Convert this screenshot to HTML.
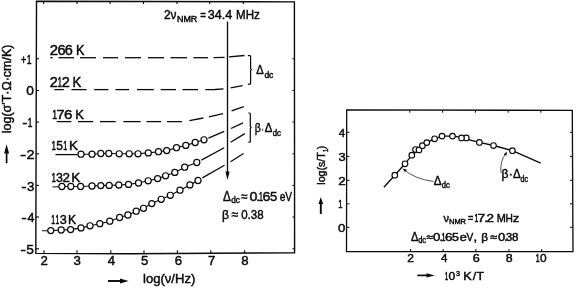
<!DOCTYPE html>
<html lang="en"><head><meta charset="utf-8"><title>Conductivity and NMR relaxation figure</title>
<style>html,body{margin:0;padding:0;background:#fff;overflow:hidden}svg{display:block}text{font-family:"Liberation Sans",sans-serif;fill:#0a0a0a;stroke:#0a0a0a;stroke-width:0.45px}</style>
</head><body>
<svg width="576" height="289" viewBox="0 0 576 289">
<rect width="576" height="289" fill="#fff"/>
<polygon points="36.5,1.3 294.4,1.9 294.6,252.7 130,253.8 35.8,253.4" fill="none" stroke="#0a0a0a" stroke-width="1.4"/>
<line x1="43.6" y1="1.5" x2="43.6" y2="4" stroke="#0a0a0a" stroke-width="1.1"/>
<line x1="77" y1="1.5" x2="77" y2="4" stroke="#0a0a0a" stroke-width="1.1"/>
<line x1="110.1" y1="1.5" x2="110.1" y2="4" stroke="#0a0a0a" stroke-width="1.1"/>
<line x1="143.5" y1="1.5" x2="143.5" y2="4" stroke="#0a0a0a" stroke-width="1.1"/>
<line x1="177" y1="1.5" x2="177" y2="4" stroke="#0a0a0a" stroke-width="1.1"/>
<line x1="209.7" y1="1.5" x2="209.7" y2="4" stroke="#0a0a0a" stroke-width="1.1"/>
<line x1="243.3" y1="1.5" x2="243.3" y2="4" stroke="#0a0a0a" stroke-width="1.1"/>
<line x1="44" y1="253.3" x2="44" y2="250.2" stroke="#0a0a0a" stroke-width="1.1"/>
<line x1="77" y1="253.3" x2="77" y2="250.2" stroke="#0a0a0a" stroke-width="1.1"/>
<line x1="110.8" y1="253.3" x2="110.8" y2="250.2" stroke="#0a0a0a" stroke-width="1.1"/>
<line x1="144" y1="253.3" x2="144" y2="250.2" stroke="#0a0a0a" stroke-width="1.1"/>
<line x1="177.4" y1="253.3" x2="177.4" y2="250.2" stroke="#0a0a0a" stroke-width="1.1"/>
<line x1="210.8" y1="253.3" x2="210.8" y2="250.2" stroke="#0a0a0a" stroke-width="1.1"/>
<line x1="244.6" y1="253.3" x2="244.6" y2="250.2" stroke="#0a0a0a" stroke-width="1.1"/>
<line x1="36" y1="58.7" x2="39" y2="58.7" stroke="#0a0a0a" stroke-width="1.1"/>
<line x1="294.5" y1="58.7" x2="292.5" y2="58.7" stroke="#0a0a0a" stroke-width="1.1"/>
<line x1="36" y1="90.5" x2="39" y2="90.5" stroke="#0a0a0a" stroke-width="1.1"/>
<line x1="294.5" y1="90.5" x2="292.5" y2="90.5" stroke="#0a0a0a" stroke-width="1.1"/>
<line x1="36" y1="122" x2="39" y2="122" stroke="#0a0a0a" stroke-width="1.1"/>
<line x1="294.5" y1="122" x2="292.5" y2="122" stroke="#0a0a0a" stroke-width="1.1"/>
<line x1="36" y1="153.8" x2="39" y2="153.8" stroke="#0a0a0a" stroke-width="1.1"/>
<line x1="294.5" y1="153.8" x2="292.5" y2="153.8" stroke="#0a0a0a" stroke-width="1.1"/>
<line x1="36" y1="185.4" x2="39" y2="185.4" stroke="#0a0a0a" stroke-width="1.1"/>
<line x1="294.5" y1="185.4" x2="292.5" y2="185.4" stroke="#0a0a0a" stroke-width="1.1"/>
<line x1="36" y1="217" x2="39" y2="217" stroke="#0a0a0a" stroke-width="1.1"/>
<line x1="294.5" y1="217" x2="292.5" y2="217" stroke="#0a0a0a" stroke-width="1.1"/>
<line x1="36" y1="248.8" x2="39" y2="248.8" stroke="#0a0a0a" stroke-width="1.1"/>
<line x1="294.5" y1="248.8" x2="292.5" y2="248.8" stroke="#0a0a0a" stroke-width="1.1"/>
<text y="64.3" font-size="13.2" ><tspan x="20.96" textLength="5.29" lengthAdjust="spacingAndGlyphs" stroke-width="0.55">+</tspan><tspan x="26.75" textLength="4.77" lengthAdjust="spacingAndGlyphs" stroke-width="0.58">1</tspan></text>
<text y="95.4" font-size="13.4" ><tspan x="26.36" textLength="7.68" lengthAdjust="spacingAndGlyphs">0</tspan></text>
<text y="127" font-size="13.6" ><tspan x="22.29" textLength="5.32" lengthAdjust="spacingAndGlyphs">-</tspan><tspan x="27.86" textLength="4.64" lengthAdjust="spacingAndGlyphs" stroke-width="0.61">1</tspan></text>
<text y="158.7" font-size="13.2" ><tspan x="20.06" textLength="6.27" lengthAdjust="spacingAndGlyphs">-</tspan><tspan x="26.57" textLength="8.06" lengthAdjust="spacingAndGlyphs">2</tspan></text>
<text y="190.6" font-size="13.2" ><tspan x="21.39" textLength="5.32" lengthAdjust="spacingAndGlyphs">-</tspan><tspan x="27.09" textLength="7.39" lengthAdjust="spacingAndGlyphs">3</tspan></text>
<text y="221.7" font-size="13" ><tspan x="21.35" textLength="5.59" lengthAdjust="spacingAndGlyphs">-</tspan><tspan x="27.61" textLength="6.95" lengthAdjust="spacingAndGlyphs">4</tspan></text>
<text y="254" font-size="13.2" ><tspan x="20.24" textLength="5.73" lengthAdjust="spacingAndGlyphs">-</tspan><tspan x="26.25" textLength="7.62" lengthAdjust="spacingAndGlyphs">5</tspan></text>
<text x="44.1" y="265.4" font-size="13.2" text-anchor="middle" >2</text>
<text x="77.1" y="265.4" font-size="13.2" text-anchor="middle" >3</text>
<text x="111.4" y="265.4" font-size="13.2" text-anchor="middle" >4</text>
<text x="144.6" y="265.4" font-size="13.2" text-anchor="middle" >5</text>
<text x="178.4" y="265.4" font-size="13.2" text-anchor="middle" >6</text>
<text x="211.6" y="265.4" font-size="13.2" text-anchor="middle" >7</text>
<text x="245" y="265.4" font-size="13.2" text-anchor="middle" >8</text>
<text transform="translate(11.3,88.9) rotate(-90)" font-size="12.3" text-anchor="middle" textLength="88.6" lengthAdjust="spacingAndGlyphs">log(σ'T·Ω·cm/K)</text>
<path d="M6.6,163.2V152" stroke="#0a0a0a" stroke-width="1.7" fill="none"/><path d="M6.6,144.2l-2.5,9.3h5z" fill="#0a0a0a"/>
<path d="M108,281H121" stroke="#0a0a0a" stroke-width="1.9" fill="none"/><path d="M128.5,281l-8.5,-2.5v5z" fill="#0a0a0a"/>
<text x="143" y="283.4" font-size="13.2" text-anchor="start" textLength="52.3" lengthAdjust="spacingAndGlyphs" >log(ν/Hz)</text>
<text x="164" y="19.2" font-size="13" text-anchor="start" textLength="12.5" lengthAdjust="spacingAndGlyphs" >2ν</text>
<text x="177" y="21.6" font-size="8.6" text-anchor="start" textLength="20.3" lengthAdjust="spacingAndGlyphs" >NMR</text>
<text x="200.2" y="19.2" font-size="13" text-anchor="start" textLength="5.6" lengthAdjust="spacingAndGlyphs" >=</text>
<text x="207.8" y="19.2" font-size="13" text-anchor="start" textLength="24.5" lengthAdjust="spacingAndGlyphs" >34.4</text>
<text x="236" y="19.2" font-size="13" text-anchor="start" textLength="23.8" lengthAdjust="spacingAndGlyphs" >MHz</text>
<line x1="227.5" y1="21.5" x2="227.5" y2="173" stroke="#0a0a0a" stroke-width="1.3"/>
<path d="M227.5,180l-2.1,-8.5h4.2z" fill="#0a0a0a"/>
<polyline points="50.3,57.7 52.6,57.7" fill="none" stroke="#0a0a0a" stroke-width="1.3" />
<polyline points="58.5,57.7 74,57.7" fill="none" stroke="#0a0a0a" stroke-width="1.3" />
<polyline points="80,57.7 96,57.7" fill="none" stroke="#0a0a0a" stroke-width="1.3" />
<polyline points="103,57.7 118,57.7" fill="none" stroke="#0a0a0a" stroke-width="1.3" />
<polyline points="125,57.7 141,57.7" fill="none" stroke="#0a0a0a" stroke-width="1.3" />
<polyline points="148,57.7 164,57.7" fill="none" stroke="#0a0a0a" stroke-width="1.3" />
<polyline points="170.5,57.7 187,57.7" fill="none" stroke="#0a0a0a" stroke-width="1.3" />
<polyline points="193.5,57.7 208,57.7" fill="none" stroke="#0a0a0a" stroke-width="1.3" />
<polyline points="213.5,57.7 224.5,57.400000000000006" fill="none" stroke="#0a0a0a" stroke-width="1.3" />
<polyline points="229,56.8 244.5,55.5" fill="none" stroke="#0a0a0a" stroke-width="1.3" />
<polyline points="54.3,89.6 63.8,89.6" fill="none" stroke="#0a0a0a" stroke-width="1.3" />
<polyline points="71.4,89.6 86.6,89.6" fill="none" stroke="#0a0a0a" stroke-width="1.3" />
<polyline points="94.2,89.6 108.4,89.6" fill="none" stroke="#0a0a0a" stroke-width="1.3" />
<polyline points="115.5,89.6 129,89.6" fill="none" stroke="#0a0a0a" stroke-width="1.3" />
<polyline points="137,89.6 153.8,89.6" fill="none" stroke="#0a0a0a" stroke-width="1.3" />
<polyline points="160.6,89.6 176,89.6" fill="none" stroke="#0a0a0a" stroke-width="1.3" />
<polyline points="182.4,89.6 198,89.6" fill="none" stroke="#0a0a0a" stroke-width="1.3" />
<polyline points="205.3,89.6 215,89.5 223.5,88.9" fill="none" stroke="#0a0a0a" stroke-width="1.3" />
<polyline points="230.6,87.8 242.7,85.6" fill="none" stroke="#0a0a0a" stroke-width="1.3" />
<polyline points="56.7,121.6 71.4,121.6" fill="none" stroke="#0a0a0a" stroke-width="1.3" />
<polyline points="78,121.6 93.2,121.6" fill="none" stroke="#0a0a0a" stroke-width="1.3" />
<polyline points="99.9,121.6 115.7,121.6" fill="none" stroke="#0a0a0a" stroke-width="1.3" />
<polyline points="123.4,121.6 140.6,121.6" fill="none" stroke="#0a0a0a" stroke-width="1.3" />
<polyline points="146.5,121.6 161.2,121.6" fill="none" stroke="#0a0a0a" stroke-width="1.3" />
<polyline points="167,121.6 181.9,121.7" fill="none" stroke="#0a0a0a" stroke-width="1.3" />
<polyline points="189.4,120.7 203.4,118" fill="none" stroke="#0a0a0a" stroke-width="1.3" />
<polyline points="208.9,116.9 223,113.7" fill="none" stroke="#0a0a0a" stroke-width="1.3" />
<polyline points="231.6,110.9 243.8,106.6" fill="none" stroke="#0a0a0a" stroke-width="1.3" />
<line x1="55.5" y1="154.6" x2="77.5" y2="154.6" stroke="#0a0a0a" stroke-width="1.3"/>
<polyline points="81,154.2 92,154.2 100.8,153.5 108.8,153.5 119.2,153.8 129.2,153.8 138,153.8 148.3,152.9 158.5,151.7 166.7,150.6 176.5,147.7 185.8,145.4 195.2,142.5 204,139.8" fill="none" stroke="#0a0a0a" stroke-width="1.1" />
<polyline points="208.4,138.1 224.2,131.3" fill="none" stroke="#0a0a0a" stroke-width="1.3" />
<polyline points="231,128.5 243,122.8" fill="none" stroke="#0a0a0a" stroke-width="1.3" />
<circle cx="81" cy="154.2" r="3.05" fill="#fff" stroke="#0a0a0a" stroke-width="1.2"/>
<circle cx="92" cy="154.2" r="3.05" fill="#fff" stroke="#0a0a0a" stroke-width="1.2"/>
<circle cx="100.8" cy="153.5" r="3.05" fill="#fff" stroke="#0a0a0a" stroke-width="1.2"/>
<circle cx="108.8" cy="153.5" r="3.05" fill="#fff" stroke="#0a0a0a" stroke-width="1.2"/>
<circle cx="119.2" cy="153.8" r="3.05" fill="#fff" stroke="#0a0a0a" stroke-width="1.2"/>
<circle cx="129.2" cy="153.8" r="3.05" fill="#fff" stroke="#0a0a0a" stroke-width="1.2"/>
<circle cx="138" cy="153.8" r="3.05" fill="#fff" stroke="#0a0a0a" stroke-width="1.2"/>
<circle cx="148.3" cy="152.9" r="3.05" fill="#fff" stroke="#0a0a0a" stroke-width="1.2"/>
<circle cx="158.5" cy="151.7" r="3.05" fill="#fff" stroke="#0a0a0a" stroke-width="1.2"/>
<circle cx="166.7" cy="150.6" r="3.05" fill="#fff" stroke="#0a0a0a" stroke-width="1.2"/>
<circle cx="176.5" cy="147.7" r="3.05" fill="#fff" stroke="#0a0a0a" stroke-width="1.2"/>
<circle cx="185.8" cy="145.4" r="3.05" fill="#fff" stroke="#0a0a0a" stroke-width="1.2"/>
<circle cx="195.2" cy="142.5" r="3.05" fill="#fff" stroke="#0a0a0a" stroke-width="1.2"/>
<circle cx="204" cy="139.8" r="3.05" fill="#fff" stroke="#0a0a0a" stroke-width="1.2"/>
<text y="149.6" font-size="13" ><tspan x="51.40" textLength="4.39" lengthAdjust="spacingAndGlyphs" stroke-width="0.61">1</tspan><tspan x="56.22" textLength="6.69" lengthAdjust="spacingAndGlyphs">5</tspan><tspan x="63.19" textLength="4.06" lengthAdjust="spacingAndGlyphs" stroke-width="0.65">1</tspan><tspan x="67.5"> </tspan><tspan x="69.08" textLength="9.07" lengthAdjust="spacingAndGlyphs">K</tspan></text>
<polyline points="52.5,187 61.9,186.5 70.8,186.5 80.6,186.5 92,186 100.8,185.6 109.2,185.4 118.8,185 128.5,184.4 138.5,183 148.2,180.8 157.6,178.6 165.6,175.8 174.8,172.4 184.7,167.2 196.8,162.5" fill="none" stroke="#0a0a0a" stroke-width="1.1" />
<polyline points="201.3,160.1 224.2,147.7" fill="none" stroke="#0a0a0a" stroke-width="1.3" />
<polyline points="230.6,142.3 244.8,133.6" fill="none" stroke="#0a0a0a" stroke-width="1.3" />
<circle cx="61.9" cy="186.5" r="3.05" fill="#fff" stroke="#0a0a0a" stroke-width="1.2"/>
<circle cx="70.8" cy="186.5" r="3.05" fill="#fff" stroke="#0a0a0a" stroke-width="1.2"/>
<circle cx="80.6" cy="186.5" r="3.05" fill="#fff" stroke="#0a0a0a" stroke-width="1.2"/>
<circle cx="92" cy="186" r="3.05" fill="#fff" stroke="#0a0a0a" stroke-width="1.2"/>
<circle cx="100.8" cy="185.6" r="3.05" fill="#fff" stroke="#0a0a0a" stroke-width="1.2"/>
<circle cx="109.2" cy="185.4" r="3.05" fill="#fff" stroke="#0a0a0a" stroke-width="1.2"/>
<circle cx="118.8" cy="185" r="3.05" fill="#fff" stroke="#0a0a0a" stroke-width="1.2"/>
<circle cx="128.5" cy="184.4" r="3.05" fill="#fff" stroke="#0a0a0a" stroke-width="1.2"/>
<circle cx="138.5" cy="183" r="3.05" fill="#fff" stroke="#0a0a0a" stroke-width="1.2"/>
<circle cx="148.2" cy="180.8" r="3.05" fill="#fff" stroke="#0a0a0a" stroke-width="1.2"/>
<circle cx="157.6" cy="178.6" r="3.05" fill="#fff" stroke="#0a0a0a" stroke-width="1.2"/>
<circle cx="165.6" cy="175.8" r="3.05" fill="#fff" stroke="#0a0a0a" stroke-width="1.2"/>
<circle cx="174.8" cy="172.4" r="3.05" fill="#fff" stroke="#0a0a0a" stroke-width="1.2"/>
<circle cx="184.7" cy="167.2" r="3.05" fill="#fff" stroke="#0a0a0a" stroke-width="1.2"/>
<circle cx="196.8" cy="162.5" r="3.05" fill="#fff" stroke="#0a0a0a" stroke-width="1.2"/>
<text y="181.5" font-size="13" ><tspan x="51.40" textLength="4.39" lengthAdjust="spacingAndGlyphs" stroke-width="0.61">1</tspan><tspan x="56.03" textLength="6.92" lengthAdjust="spacingAndGlyphs">3</tspan><tspan x="62.43" textLength="7.45" lengthAdjust="spacingAndGlyphs">2</tspan><tspan x="69.5"> </tspan><tspan x="71.18" textLength="9.07" lengthAdjust="spacingAndGlyphs">K</tspan></text>
<polyline points="42,230.8 50.8,230.6 61.2,230 70.6,229.6 81,227.9 90,225.8 99.8,223.7 109.8,221.2 119.6,217.5 127.9,215 136.2,211.2 143.5,208.3 151.8,203.6 161.2,199.3 170.3,195.3 180,190.2 189.9,184.9 198,180.5" fill="none" stroke="#0a0a0a" stroke-width="1.1" />
<polyline points="202.4,177.9 224.5,165.3" fill="none" stroke="#0a0a0a" stroke-width="1.3" />
<polyline points="230.5,161.7 243.5,153.5" fill="none" stroke="#0a0a0a" stroke-width="1.3" />
<circle cx="50.8" cy="230.6" r="3.05" fill="#fff" stroke="#0a0a0a" stroke-width="1.2"/>
<circle cx="61.2" cy="230" r="3.05" fill="#fff" stroke="#0a0a0a" stroke-width="1.2"/>
<circle cx="70.6" cy="229.6" r="3.05" fill="#fff" stroke="#0a0a0a" stroke-width="1.2"/>
<circle cx="81" cy="227.9" r="3.05" fill="#fff" stroke="#0a0a0a" stroke-width="1.2"/>
<circle cx="90" cy="225.8" r="3.05" fill="#fff" stroke="#0a0a0a" stroke-width="1.2"/>
<circle cx="99.8" cy="223.7" r="3.05" fill="#fff" stroke="#0a0a0a" stroke-width="1.2"/>
<circle cx="109.8" cy="221.2" r="3.05" fill="#fff" stroke="#0a0a0a" stroke-width="1.2"/>
<circle cx="119.6" cy="217.5" r="3.05" fill="#fff" stroke="#0a0a0a" stroke-width="1.2"/>
<circle cx="127.9" cy="215" r="3.05" fill="#fff" stroke="#0a0a0a" stroke-width="1.2"/>
<circle cx="136.2" cy="211.2" r="3.05" fill="#fff" stroke="#0a0a0a" stroke-width="1.2"/>
<circle cx="143.5" cy="208.3" r="3.05" fill="#fff" stroke="#0a0a0a" stroke-width="1.2"/>
<circle cx="151.8" cy="203.6" r="3.05" fill="#fff" stroke="#0a0a0a" stroke-width="1.2"/>
<circle cx="161.2" cy="199.3" r="3.05" fill="#fff" stroke="#0a0a0a" stroke-width="1.2"/>
<circle cx="170.3" cy="195.3" r="3.05" fill="#fff" stroke="#0a0a0a" stroke-width="1.2"/>
<circle cx="180" cy="190.2" r="3.05" fill="#fff" stroke="#0a0a0a" stroke-width="1.2"/>
<circle cx="189.9" cy="184.9" r="3.05" fill="#fff" stroke="#0a0a0a" stroke-width="1.2"/>
<circle cx="198" cy="180.5" r="3.05" fill="#fff" stroke="#0a0a0a" stroke-width="1.2"/>
<text y="224.2" font-size="13" ><tspan x="51.27" textLength="3.87" lengthAdjust="spacingAndGlyphs" stroke-width="0.67">1</tspan><tspan x="55.49" textLength="3.74" lengthAdjust="spacingAndGlyphs" stroke-width="0.69">1</tspan><tspan x="59.72" textLength="7.04" lengthAdjust="spacingAndGlyphs">3</tspan><tspan x="66.5"> </tspan><tspan x="68.10" textLength="8.14" lengthAdjust="spacingAndGlyphs">K</tspan></text>
<text y="54.7" font-size="13.8" ><tspan x="49.65" textLength="8.30" lengthAdjust="spacingAndGlyphs">2</tspan><tspan x="57.45" textLength="8.20" lengthAdjust="spacingAndGlyphs">6</tspan><tspan x="64.86" textLength="8.08" lengthAdjust="spacingAndGlyphs">6</tspan><tspan x="73"> </tspan><tspan x="75.96" textLength="8.49" lengthAdjust="spacingAndGlyphs">K</tspan></text>
<text y="86.6" font-size="14" ><tspan x="49.87" textLength="8.06" lengthAdjust="spacingAndGlyphs">2</tspan><tspan x="57.63" textLength="4.13" lengthAdjust="spacingAndGlyphs" stroke-width="0.68">1</tspan><tspan x="61.67" textLength="8.06" lengthAdjust="spacingAndGlyphs">2</tspan><tspan x="69.5"> </tspan><tspan x="72.41" textLength="8.84" lengthAdjust="spacingAndGlyphs">K</tspan></text>
<text y="119" font-size="13.6" ><tspan x="52.35" textLength="4.77" lengthAdjust="spacingAndGlyphs" stroke-width="0.60">1</tspan><tspan x="56.46" textLength="8.01" lengthAdjust="spacingAndGlyphs">7</tspan><tspan x="64.03" textLength="8.44" lengthAdjust="spacingAndGlyphs">6</tspan><tspan x="72"> </tspan><tspan x="75.18" textLength="8.72" lengthAdjust="spacingAndGlyphs">K</tspan></text>
<path d="M247.9,55.6h2q0.7,0 0.7,0.9V68.5l0.8,1l-0.8,1V83.2q0,0.9 -0.7,0.9h-2" fill="none" stroke="#0a0a0a" stroke-width="1.2"/>
<path d="M248.4,113h1.3q0.6,0 0.6,0.9V126.5l0.8,1l-0.8,1V141.2q0,0.9 -0.6,0.9h-1.3" fill="none" stroke="#0a0a0a" stroke-width="1.2"/>
<text x="256.2" y="74.4" font-size="12.2" text-anchor="start" textLength="7.4" lengthAdjust="spacingAndGlyphs" >Δ</text>
<text x="264.4" y="77.6" font-size="8.2" text-anchor="start" textLength="9" lengthAdjust="spacingAndGlyphs" >dc</text>
<text x="254.7" y="131.6" font-size="12.6" text-anchor="start" textLength="6" lengthAdjust="spacingAndGlyphs" >β</text>
<text x="261.6" y="132.6" font-size="12.6" text-anchor="start" textLength="2.4" lengthAdjust="spacingAndGlyphs" >·</text>
<text x="264.8" y="131.6" font-size="12.4" text-anchor="start" textLength="7.6" lengthAdjust="spacingAndGlyphs" >Δ</text>
<text x="272.7" y="135.6" font-size="8.2" text-anchor="start" textLength="8.2" lengthAdjust="spacingAndGlyphs" >dc</text>
<text x="223.1" y="200.6" font-size="14" text-anchor="start" textLength="7.8" lengthAdjust="spacingAndGlyphs" >Δ</text>
<text x="231.2" y="203.4" font-size="8.8" text-anchor="start" textLength="8.7" lengthAdjust="spacingAndGlyphs" >dc</text>
<text x="241.2" y="200.6" font-size="13.5" text-anchor="start" textLength="6.2" lengthAdjust="spacingAndGlyphs" >≈</text>
<text y="200.6" font-size="13.5" ><tspan x="249.44" textLength="7.91" lengthAdjust="spacingAndGlyphs">0</tspan><tspan x="256.35" textLength="3.79" lengthAdjust="spacingAndGlyphs">.</tspan><tspan x="259.07" textLength="3.87" lengthAdjust="spacingAndGlyphs" stroke-width="0.69">1</tspan><tspan x="262.57" textLength="7.95" lengthAdjust="spacingAndGlyphs">6</tspan><tspan x="269.88" textLength="7.27" lengthAdjust="spacingAndGlyphs">5</tspan></text>
<text x="279.7" y="200.6" font-size="13.5" text-anchor="start" textLength="12.4" lengthAdjust="spacingAndGlyphs" >eV</text>
<text x="222" y="218.6" font-size="13" text-anchor="start" textLength="7" lengthAdjust="spacingAndGlyphs" >β</text>
<text x="231.4" y="218.6" font-size="13.5" text-anchor="start" textLength="6.6" lengthAdjust="spacingAndGlyphs" >≈</text>
<text x="241.2" y="218.6" font-size="13.5" text-anchor="start" textLength="22.4" lengthAdjust="spacingAndGlyphs" >0.38</text>
<polygon points="346.7,109.9 572.3,110.4 573,251.5 346.5,251.7" fill="none" stroke="#0a0a0a" stroke-width="1.3"/>
<line x1="409.8" y1="110.2" x2="409.8" y2="112.7" stroke="#0a0a0a" stroke-width="1"/>
<line x1="442.7" y1="110.2" x2="442.7" y2="112.7" stroke="#0a0a0a" stroke-width="1"/>
<line x1="475.4" y1="110.2" x2="475.4" y2="112.7" stroke="#0a0a0a" stroke-width="1"/>
<line x1="508.2" y1="110.2" x2="508.2" y2="112.7" stroke="#0a0a0a" stroke-width="1"/>
<line x1="540.8" y1="110.2" x2="540.8" y2="112.7" stroke="#0a0a0a" stroke-width="1"/>
<line x1="410.6" y1="251.6" x2="410.6" y2="249" stroke="#0a0a0a" stroke-width="1"/>
<line x1="443.1" y1="251.6" x2="443.1" y2="249" stroke="#0a0a0a" stroke-width="1"/>
<line x1="475.9" y1="251.6" x2="475.9" y2="249" stroke="#0a0a0a" stroke-width="1"/>
<line x1="509" y1="251.6" x2="509" y2="249" stroke="#0a0a0a" stroke-width="1"/>
<line x1="541.7" y1="251.6" x2="541.7" y2="249" stroke="#0a0a0a" stroke-width="1"/>
<line x1="346.5" y1="132.3" x2="349.5" y2="132.3" stroke="#0a0a0a" stroke-width="1"/>
<line x1="572.6" y1="132.3" x2="570" y2="132.3" stroke="#0a0a0a" stroke-width="1"/>
<line x1="346.5" y1="156.4" x2="349.5" y2="156.4" stroke="#0a0a0a" stroke-width="1"/>
<line x1="572.6" y1="156.4" x2="570" y2="156.4" stroke="#0a0a0a" stroke-width="1"/>
<line x1="346.5" y1="180.3" x2="349.5" y2="180.3" stroke="#0a0a0a" stroke-width="1"/>
<line x1="572.6" y1="180.3" x2="570" y2="180.3" stroke="#0a0a0a" stroke-width="1"/>
<line x1="346.5" y1="203.8" x2="349.5" y2="203.8" stroke="#0a0a0a" stroke-width="1"/>
<line x1="572.6" y1="203.8" x2="570" y2="203.8" stroke="#0a0a0a" stroke-width="1"/>
<line x1="346.5" y1="227.3" x2="349.5" y2="227.3" stroke="#0a0a0a" stroke-width="1"/>
<line x1="572.6" y1="227.3" x2="570" y2="227.3" stroke="#0a0a0a" stroke-width="1"/>
<text y="136.7" font-size="11.8" ><tspan x="338.74" textLength="6.40" lengthAdjust="spacingAndGlyphs">4</tspan></text>
<text y="160.7" font-size="11.8" ><tspan x="338.41" textLength="7.16" lengthAdjust="spacingAndGlyphs">3</tspan></text>
<text y="184.7" font-size="11.8" ><tspan x="338.23" textLength="7.45" lengthAdjust="spacingAndGlyphs">2</tspan></text>
<text y="208.3" font-size="11.8" ><tspan x="338.32" textLength="4.26" lengthAdjust="spacingAndGlyphs" stroke-width="0.58">1</tspan></text>
<text y="231.9" font-size="11.8" ><tspan x="337.99" textLength="7.33" lengthAdjust="spacingAndGlyphs">0</tspan></text>
<text y="262.1" font-size="11.2" ><tspan x="407.29" textLength="6.71" lengthAdjust="spacingAndGlyphs">2</tspan></text>
<text y="262.1" font-size="11.2" ><tspan x="440.94" textLength="6.40" lengthAdjust="spacingAndGlyphs">4</tspan></text>
<text y="262.1" font-size="11.2" ><tspan x="472.86" textLength="6.99" lengthAdjust="spacingAndGlyphs">6</tspan></text>
<text y="262.1" font-size="11.2" ><tspan x="505.76" textLength="6.87" lengthAdjust="spacingAndGlyphs">8</tspan></text>
<text y="261.7" font-size="11.3" ><tspan x="535.77" textLength="3.87" lengthAdjust="spacingAndGlyphs" stroke-width="0.61">1</tspan><tspan x="540.03" textLength="6.63" lengthAdjust="spacingAndGlyphs">0</tspan></text>
<g transform="translate(325,184.7) rotate(-90)">
<text x="0" y="0" font-size="11.6" text-anchor="start" textLength="32.5" lengthAdjust="spacingAndGlyphs" >log(s/T</text>
<text x="32.6" y="2.6" font-size="7.6" text-anchor="start" textLength="3.2" lengthAdjust="spacingAndGlyphs" >1</text>
<text x="35.4" y="0" font-size="11.6" text-anchor="start" textLength="3.4" lengthAdjust="spacingAndGlyphs" >)</text>
</g>
<path d="M320.8,214V202" stroke="#0a0a0a" stroke-width="1.9" fill="none"/><path d="M320.8,197l-2.3,7h4.6z" fill="#0a0a0a"/>
<path d="M417.3,275.4H428" stroke="#0a0a0a" stroke-width="1.7" fill="none"/><path d="M434.8,275.4l-8.3,-2.1v4.2z" fill="#0a0a0a"/>
<text y="280" font-size="11.3" ><tspan x="444.98" textLength="3.10" lengthAdjust="spacingAndGlyphs" stroke-width="0.71">1</tspan><tspan x="448.53" textLength="6.75" lengthAdjust="spacingAndGlyphs">0</tspan></text>
<text y="276.4" font-size="8" ><tspan x="456.03" textLength="3.99" lengthAdjust="spacingAndGlyphs">3</tspan></text>
<text y="280" font-size="11.3" ><tspan x="463.16" textLength="8.49" lengthAdjust="spacingAndGlyphs">K</tspan><tspan x="472.80" textLength="3.40" lengthAdjust="spacingAndGlyphs">/</tspan><tspan x="476.42" textLength="7.56" lengthAdjust="spacingAndGlyphs">T</tspan></text>
<polyline points="383.9,187.3 394.8,175.2 405,163.8 411.8,155.2 419,149.9 422.4,145.7 426.8,142.6 434.6,138.8 442,136.1 452.5,136.1 466.3,137.9 461.5,137.9 479.4,142.4 493.5,145.5 512.4,150.7 540.7,163.2" fill="none" stroke="#0a0a0a" stroke-width="1.3" />
<circle cx="394.8" cy="175.2" r="2.8" fill="#fff" stroke="#0a0a0a" stroke-width="1.15"/>
<circle cx="405" cy="163.8" r="2.8" fill="#fff" stroke="#0a0a0a" stroke-width="1.15"/>
<circle cx="411.8" cy="155.2" r="2.8" fill="#fff" stroke="#0a0a0a" stroke-width="1.15"/>
<circle cx="415.5" cy="149.5" r="2.8" fill="#fff" stroke="#0a0a0a" stroke-width="1.15"/>
<circle cx="419" cy="149.9" r="2.8" fill="#fff" stroke="#0a0a0a" stroke-width="1.15"/>
<circle cx="422.4" cy="145.7" r="2.8" fill="#fff" stroke="#0a0a0a" stroke-width="1.15"/>
<circle cx="426.8" cy="142.6" r="2.8" fill="#fff" stroke="#0a0a0a" stroke-width="1.15"/>
<circle cx="434.6" cy="138.8" r="2.8" fill="#fff" stroke="#0a0a0a" stroke-width="1.15"/>
<circle cx="442" cy="136.1" r="2.8" fill="#fff" stroke="#0a0a0a" stroke-width="1.15"/>
<circle cx="452.5" cy="136.1" r="2.8" fill="#fff" stroke="#0a0a0a" stroke-width="1.15"/>
<circle cx="466.3" cy="137.9" r="2.8" fill="#fff" stroke="#0a0a0a" stroke-width="1.15"/>
<circle cx="461.5" cy="137.9" r="2.8" fill="#fff" stroke="#0a0a0a" stroke-width="1.15"/>
<circle cx="479.4" cy="142.4" r="2.8" fill="#fff" stroke="#0a0a0a" stroke-width="1.15"/>
<circle cx="493.5" cy="145.5" r="2.8" fill="#fff" stroke="#0a0a0a" stroke-width="1.15"/>
<circle cx="512.4" cy="150.7" r="2.8" fill="#fff" stroke="#0a0a0a" stroke-width="1.15"/>
<path d="M433.5,181.5Q415,179 403.5,169.5" fill="none" stroke="#0a0a0a" stroke-width="0.7"/><path d="M402.5,168.5l4.5,1.2l-2,2.3z" fill="#0a0a0a"/>
<path d="M501,173Q499.5,162 506,153" fill="none" stroke="#0a0a0a" stroke-width="0.7"/><path d="M507,151.5l-0.6,4.3l-2.6,-1.6z" fill="#0a0a0a"/>
<text y="184.8" font-size="12.2" ><tspan x="433.85" textLength="7.80" lengthAdjust="spacingAndGlyphs">Δ</tspan></text>
<text x="441.7" y="187.8" font-size="8.2" text-anchor="start" textLength="8" lengthAdjust="spacingAndGlyphs" >dc</text>
<text y="178.4" font-size="12.2" ><tspan x="501.57" textLength="6.91" lengthAdjust="spacingAndGlyphs">β</tspan><tspan x="508.48" textLength="4.55" lengthAdjust="spacingAndGlyphs">·</tspan><tspan x="512.96" textLength="7.69" lengthAdjust="spacingAndGlyphs">Δ</tspan></text>
<text x="520.6" y="181.8" font-size="8.2" text-anchor="start" textLength="7.5" lengthAdjust="spacingAndGlyphs" >dc</text>
<text y="222.2" font-size="11.2" ><tspan x="443.60" textLength="5.52" lengthAdjust="spacingAndGlyphs">ν</tspan></text>
<text x="449" y="224.4" font-size="7.6" text-anchor="start" textLength="17" lengthAdjust="spacingAndGlyphs" >NMR</text>
<text y="222.2" font-size="11" ><tspan x="467.96" textLength="5.29" lengthAdjust="spacingAndGlyphs" stroke-width="0.44">=</tspan><tspan x="473.5"> </tspan><tspan x="474.49" textLength="3.74" lengthAdjust="spacingAndGlyphs" stroke-width="0.61">1</tspan><tspan x="477.60" textLength="7.59" lengthAdjust="spacingAndGlyphs">7</tspan><tspan x="484.25" textLength="3.50" lengthAdjust="spacingAndGlyphs">.</tspan><tspan x="486.43" textLength="7.45" lengthAdjust="spacingAndGlyphs">2</tspan><tspan x="494"> </tspan><tspan x="496.70" textLength="9.09" lengthAdjust="spacingAndGlyphs">M</tspan><tspan x="505.56" textLength="7.37" lengthAdjust="spacingAndGlyphs">H</tspan><tspan x="512.67" textLength="6.59" lengthAdjust="spacingAndGlyphs">z</tspan></text>
<text y="240.5" font-size="12" ><tspan x="410.97" textLength="7.36" lengthAdjust="spacingAndGlyphs">Δ</tspan></text>
<text x="418.2" y="243.4" font-size="8.6" text-anchor="start" textLength="7.7" lengthAdjust="spacingAndGlyphs" >dc</text>
<text y="240.6" font-size="11" ><tspan x="426.27" textLength="6.55" lengthAdjust="spacingAndGlyphs">≈</tspan><tspan x="433.09" textLength="7.33" lengthAdjust="spacingAndGlyphs">0</tspan><tspan x="439.45" textLength="3.50" lengthAdjust="spacingAndGlyphs">.</tspan><tspan x="441.81" textLength="3.61" lengthAdjust="spacingAndGlyphs" stroke-width="0.63">1</tspan><tspan x="444.91" textLength="7.59" lengthAdjust="spacingAndGlyphs">6</tspan><tspan x="451.90" textLength="6.92" lengthAdjust="spacingAndGlyphs">5</tspan><tspan x="459"> </tspan><tspan x="459.66" textLength="7.11" lengthAdjust="spacingAndGlyphs">e</tspan><tspan x="466.46" textLength="6.79" lengthAdjust="spacingAndGlyphs">V</tspan><tspan x="473.41" textLength="3.68" lengthAdjust="spacingAndGlyphs">,</tspan><tspan x="477"> </tspan><tspan x="481.28" textLength="6.78" lengthAdjust="spacingAndGlyphs">β</tspan><tspan x="490.06" textLength="6.89" lengthAdjust="spacingAndGlyphs">≈</tspan><tspan x="497.99" textLength="7.21" lengthAdjust="spacingAndGlyphs">0</tspan><tspan x="504.15" textLength="3.21" lengthAdjust="spacingAndGlyphs">.</tspan><tspan x="506.07" textLength="6.22" lengthAdjust="spacingAndGlyphs">3</tspan><tspan x="512.10" textLength="6.40" lengthAdjust="spacingAndGlyphs">8</tspan></text>
</svg></body></html>
